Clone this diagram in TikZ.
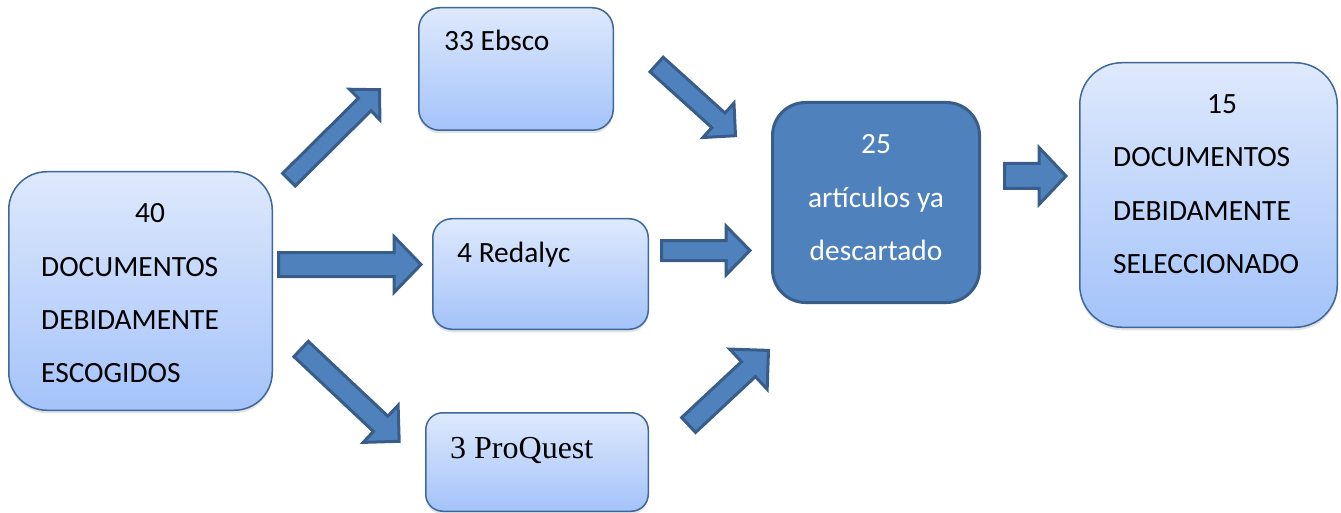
\documentclass[tikz,border=0pt]{standalone}
\usepackage{fontspec}
\setmainfont{Carlito}
\newfontfamily\timesf{Liberation Serif}
\usetikzlibrary{calc,shadows}
\definecolor{boxtop}{RGB}{222,233,252}
\definecolor{boxbot}{RGB}{164,195,250}
\definecolor{boxline}{RGB}{62,104,154}
\definecolor{darkfill}{RGB}{79,129,189}
\definecolor{darkline}{RGB}{56,93,138}
\tikzset{
  lightbox/.style={draw=boxline, line width=1.5pt, top color=boxtop, bottom color=boxbot,
    inner sep=0pt, drop shadow={shadow xshift=0pt, shadow yshift=-3pt, opacity=0.22}},
  darkbox/.style={draw=darkline, line width=3pt, fill=darkfill, inner sep=0pt},
  barrow/.style={draw=darkline, fill=darkfill, line width=3pt, line join=miter},
  txt/.style={inner sep=0pt, font=\fontsize{29.4}{53.3}\selectfont},
}
% #1 name, #2 tail, #3 tip, #4 shaft half width, #5 head half width, #6 head length
\newcommand\blockarrow[6]{%
  \path ($(#3)!#6pt!(#2)$) coordinate (#1-h);
  \draw[barrow] ($(#2)!#4pt!90:(#3)$) -- ($(#1-h)!#4pt!90:(#3)$) -- ($(#1-h)!#5pt!90:(#3)$)
    -- (#3) -- ($(#1-h)!#5pt!-90:(#3)$) -- ($(#1-h)!#4pt!-90:(#3)$) -- ($(#2)!#4pt!-90:(#3)$) -- cycle;
}
\begin{document}
\begin{tikzpicture}[x=1pt,y=-1pt]
\path[use as bounding box] (0,0) rectangle (1341,513);

% boxes
\node[lightbox, rounded corners=38pt, minimum width=263.5pt, minimum height=238.5pt] (A) at (140.5,291) {};
\node[lightbox, rounded corners=21pt, minimum width=194.5pt, minimum height=122.5pt] (eb) at (516,69) {};
\node[lightbox, rounded corners=19pt, minimum width=215.5pt, minimum height=110.5pt] (rd) at (540.5,274) {};
\node[lightbox, rounded corners=17pt, minimum width=222.5pt, minimum height=98.5pt] (pq) at (537,462) {};
\node[darkbox, rounded corners=33pt, minimum width=207pt, minimum height=200pt] (c) at (876,202.5) {};
\node[lightbox, rounded corners=42pt, minimum width=257.5pt, minimum height=264.5pt] (r) at (1208.5,195) {};

% texts
\node[txt, align=left, anchor=north west] (At) at (41,203.5)
  {\hspace*{94pt}40\\DOCUMENTOS\\DEBIDAMENTE\\ESCOGIDOS};
\node[txt, anchor=base west] (ebt) at (444,51) {33 Ebsco};
\node[txt, anchor=base west] (rdt) at (457,262) {4 Redalyc};
\node[inner sep=0pt, anchor=base west, font=\timesf\fontsize{32}{38}\selectfont] (pqt) at (450,458) {3 ProQuest};
\node[txt, align=center, anchor=north, text=white] (ct) at (876,134.5)
  {25\\artículos ya\\descartado};
\node[txt, align=left, anchor=north west] (rt) at (1113,94.5)
  {\hspace*{94pt}15\\DOCUMENTOS\\DEBIDAMENTE\\SELECCIONADO};

% arrow ends
\coordinate (a1s) at (288.9,179.7); \coordinate (a1e) at (379.6,89.7);
\coordinate (a2s) at (278.5,264.5); \coordinate (a2e) at (421,264.5);
\coordinate (a3s) at (301.1,349);   \coordinate (a3e) at (399.2,441.3);
\coordinate (a4s) at (656.6,64.5);  \coordinate (a4e) at (735.5,135.7);
\coordinate (a5s) at (661.5,250.5); \coordinate (a5e) at (750,250.5);
\coordinate (a6s) at (688.6,425);   \coordinate (a6e) at (768.5,350.4);
\coordinate (a7s) at (1004.5,176);  \coordinate (a7e) at (1066,176);

\blockarrow{a1}{a1s}{a1e}{8.9}{21.5}{21}
\blockarrow{a2}{a2s}{a2e}{12}{28}{27}
\blockarrow{a3}{a3s}{a3e}{10.5}{25.5}{25.5}
\blockarrow{a4}{a4s}{a4e}{9.8}{23.2}{23}
\blockarrow{a5}{a5s}{a5e}{10}{24.5}{24}
\blockarrow{a6}{a6s}{a6e}{10.2}{27.5}{27.5}
\blockarrow{a7}{a7s}{a7e}{12.5}{28.5}{27}
\end{tikzpicture}
\end{document}
